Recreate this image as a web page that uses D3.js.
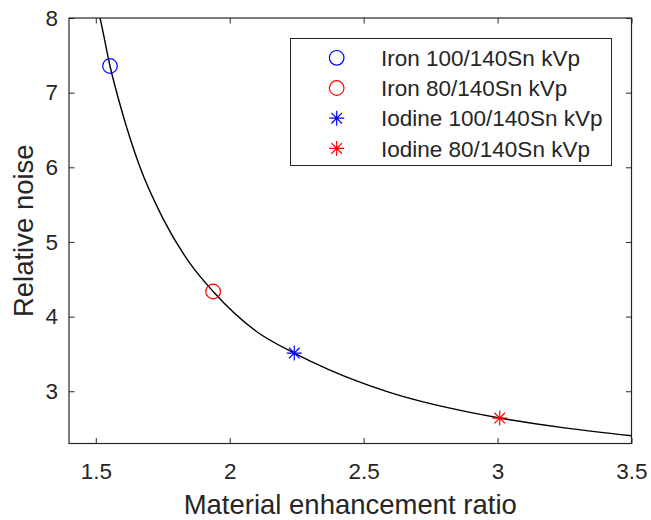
<!DOCTYPE html>
<html>
<head>
<meta charset="utf-8">
<script src="https://cdn.jsdelivr.net/npm/d3@7"></script>
<style>
  body { margin: 0; background: #fff; }
  svg { display: block; }
  text { font-family: "Liberation Sans", Arial, sans-serif; fill: #262626; }
</style>
</head>
<body>
<svg id="chart" width="651" height="520"></svg>
<script>
// ---- data ----
const curveRatio = [1.505, 1.5157, 1.553, 1.60, 1.662, 1.75, 1.851, 1.938, 2.10, 2.241, 2.37, 2.585, 3.008, 3.25, 3.5];
const curveNoise = [8.15, 8.0, 7.357, 6.72, 6.03, 5.32, 4.716, 4.336, 3.80, 3.511, 3.29, 2.998, 2.641, 2.51, 2.404];

const seriesNames = ["Iron 100/140Sn kVp", "Iron 80/140Sn kVp", "Iodine 100/140Sn kVp", "Iodine 80/140Sn kVp"];
const seriesRatio = [1.553, 1.938, 2.241, 3.008];
const seriesNoise = [7.357, 4.336, 3.511, 2.641];
const seriesMarker = ["circle", "circle", "star", "star"];
const seriesColor = ["#0000ff", "#ff0000", "#0000ff", "#ff0000"];

const xTicks = [1.5, 2, 2.5, 3, 3.5];
const yTicks = [3, 4, 5, 6, 7, 8];
const xDomain = [1.4, 3.5];
const yDomain = [2.3, 8];

// ---- layout ----
const L = 69, R = 631.5, T = 18, B = 443.5;
const svg = d3.select("#chart");
const x = d3.scaleLinear().domain(xDomain).range([L, R]);
const y = d3.scaleLinear().domain(yDomain).range([B, T]);
const axisColor = "#262626";
const tickLen = 5.5;
const tickFont = 22.5;

svg.append("defs").append("clipPath").attr("id", "clip")
  .append("rect").attr("x", L).attr("y", T).attr("width", R - L).attr("height", B - T);

// axes (bottom/left with labels, top/right mirrored)
const fmt = d => String(d);
const gx = svg.append("g").attr("transform", `translate(0,${B})`)
  .call(d3.axisBottom(x).tickValues(xTicks).tickSizeInner(-tickLen).tickSizeOuter(0).tickPadding(14).tickFormat(fmt));
const gxt = svg.append("g").attr("transform", `translate(0,${T})`)
  .call(d3.axisTop(x).tickValues(xTicks).tickSizeInner(-tickLen).tickSizeOuter(0).tickFormat(""));
const gy = svg.append("g").attr("transform", `translate(${L},0)`)
  .call(d3.axisLeft(y).tickValues(yTicks).tickSizeInner(-tickLen).tickSizeOuter(0).tickPadding(11).tickFormat(fmt));
const gyr = svg.append("g").attr("transform", `translate(${R},0)`)
  .call(d3.axisRight(y).tickValues(yTicks).tickSizeInner(-tickLen).tickSizeOuter(0).tickFormat(""));
[gx, gxt, gy, gyr].forEach(g => {
  g.select(".domain").remove();
  g.selectAll(".tick line").attr("stroke", axisColor).attr("stroke-width", 1);
  g.selectAll(".tick text").attr("font-size", tickFont).attr("fill", axisColor)
    .style("font-family", '"Liberation Sans", Arial, sans-serif');
});
gx.selectAll(".tick text").attr("dy", null).attr("y", 0)
  .attr("transform", "translate(0,35)");

// box
svg.append("rect").attr("x", L).attr("y", T).attr("width", R - L).attr("height", B - T)
  .attr("fill", "none").attr("stroke", axisColor).attr("stroke-width", 1.2);

// curve
const pts = curveRatio.map((r, i) => [r, curveNoise[i]]);
svg.append("path").datum(pts)
  .attr("clip-path", "url(#clip)")
  .attr("fill", "none").attr("stroke", "#000").attr("stroke-width", 1.4)
  .attr("d", d3.line().x(d => x(d[0])).y(d => y(d[1])).curve(d3.curveMonotoneX));

// markers
function drawMarker(g, type, cx, cy, color) {
  if (type === "circle") {
    g.append("circle").attr("cx", cx).attr("cy", cy).attr("r", 7.3)
      .attr("fill", "none").attr("stroke", color).attr("stroke-width", 1.2);
  } else {
    const s = 7.5, d = s * 0.707;
    const p = `M${cx - s},${cy}H${cx + s}M${cx},${cy - s}V${cy + s}` +
      `M${cx - d},${cy - d}L${cx + d},${cy + d}M${cx - d},${cy + d}L${cx + d},${cy - d}`;
    g.append("path").attr("d", p).attr("stroke", color).attr("stroke-width", 1.2).attr("fill", "none");
  }
}
const gm = svg.append("g");
seriesRatio.forEach((r, i) => drawMarker(gm, seriesMarker[i], x(r), y(seriesNoise[i]), seriesColor[i]));

// legend
const lg = svg.append("g");
lg.append("rect").attr("x", 290.5).attr("y", 38.5).attr("width", 321).attr("height", 127)
  .attr("fill", "#fff").attr("stroke", axisColor).attr("stroke-width", 1);
seriesNames.forEach((name, i) => {
  const yy = 57.8 + i * 30.2;
  drawMarker(lg, seriesMarker[i], 336.7, yy, seriesColor[i]);
  lg.append("text").attr("x", 381).attr("y", yy).attr("dy", "0.36em")
    .attr("font-size", tickFont).text(name);
});

// axis titles
svg.append("text").attr("x", (L + R) / 2).attr("y", 514).attr("text-anchor", "middle")
  .attr("font-size", 27.5).text("Material enhancement ratio");
svg.append("text").attr("transform", `translate(33,${(T + B) / 2}) rotate(-90)`)
  .attr("text-anchor", "middle").attr("font-size", 27.5).text("Relative noise");
</script>
</body>
</html>
